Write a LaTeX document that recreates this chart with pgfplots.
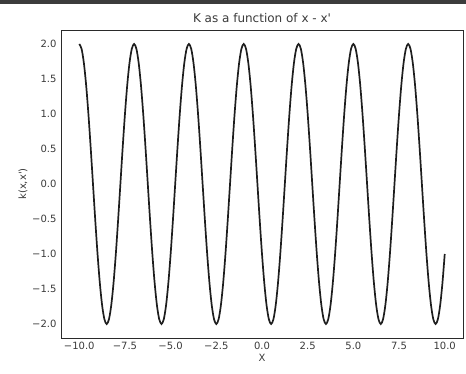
\documentclass[border=0pt]{standalone}
\usepackage{fontspec}
\setmainfont{DejaVu Sans}[Ligatures=TeXOff]
\usepackage{pgfplots}
\pgfplotsset{compat=1.18}
\definecolor{txt}{HTML}{3A3A3A}
\definecolor{frame}{HTML}{2A2A2A}
\definecolor{curve}{HTML}{1E1E1E}
\definecolor{topbar}{HTML}{3C3C3C}
\begin{document}
\begin{tikzpicture}[x=1pt,y=1pt]
\useasboundingbox (0,0) rectangle (466,374);
\fill[topbar] (0,370) rectangle (466,374);
\begin{axis}[
  at={(61pt,36pt)}, anchor=south west,
  scale only axis, width=402pt, height=308pt,
  xmin=-11, xmax=11, ymin=-2.2, ymax=2.2,
  axis line style={frame, line width=0.9pt},
  major tick length=0pt,
  xtick={-10,-7.5,-5,-2.5,0,2.5,5,7.5,10},
  xticklabels={−10.0,−7.5,−5.0,−2.5,0.0,2.5,5.0,7.5,10.0},
  ytick={-2,-1.5,-1,-0.5,0,0.5,1,1.5,2},
  yticklabels={−2.0,−1.5,−1.0,−0.5,0.0,0.5,1.0,1.5,2.0},
  tick label style={font=\fontsize{10}{12}\selectfont, text=txt},
  xticklabel style={yshift=-1pt},
  yticklabel style={xshift=-1pt},
  title={K as a function of x - x'},
  title style={font=\fontsize{12}{14}\selectfont, text=txt, yshift=-2pt},
  xlabel={X}, ylabel={k(x,x')},
  label style={font=\fontsize{10}{12}\selectfont, text=txt},
  xlabel style={yshift=3pt},
  ylabel style={yshift=-2pt},
]
\addplot[curve, line width=1.7pt, smooth] table {
x y
-10 2
-9.875 1.9319
-9.75 1.7321
-9.625 1.4142
-9.5 1
-9.375 0.5176
-9.25 0
-9.125 -0.5176
-9 -1
-8.875 -1.4142
-8.75 -1.7321
-8.625 -1.9319
-8.5 -2
-8.375 -1.9319
-8.25 -1.7321
-8.125 -1.4142
-8 -1
-7.875 -0.5176
-7.75 0
-7.625 0.5176
-7.5 1
-7.375 1.4142
-7.25 1.7321
-7.125 1.9319
-7 2
-6.875 1.9319
-6.75 1.7321
-6.625 1.4142
-6.5 1
-6.375 0.5176
-6.25 0
-6.125 -0.5176
-6 -1
-5.875 -1.4142
-5.75 -1.7321
-5.625 -1.9319
-5.5 -2
-5.375 -1.9319
-5.25 -1.7321
-5.125 -1.4142
-5 -1
-4.875 -0.5176
-4.75 0
-4.625 0.5176
-4.5 1
-4.375 1.4142
-4.25 1.7321
-4.125 1.9319
-4 2
-3.875 1.9319
-3.75 1.7321
-3.625 1.4142
-3.5 1
-3.375 0.5176
-3.25 0
-3.125 -0.5176
-3 -1
-2.875 -1.4142
-2.75 -1.7321
-2.625 -1.9319
-2.5 -2
-2.375 -1.9319
-2.25 -1.7321
-2.125 -1.4142
-2 -1
-1.875 -0.5176
-1.75 0
-1.625 0.5176
-1.5 1
-1.375 1.4142
-1.25 1.7321
-1.125 1.9319
-1 2
-0.875 1.9319
-0.75 1.7321
-0.625 1.4142
-0.5 1
-0.375 0.5176
-0.25 0
-0.125 -0.5176
0 -1
0.125 -1.4142
0.25 -1.7321
0.375 -1.9319
0.5 -2
0.625 -1.9319
0.75 -1.7321
0.875 -1.4142
1 -1
1.125 -0.5176
1.25 0
1.375 0.5176
1.5 1
1.625 1.4142
1.75 1.7321
1.875 1.9319
2 2
2.125 1.9319
2.25 1.7321
2.375 1.4142
2.5 1
2.625 0.5176
2.75 0
2.875 -0.5176
3 -1
3.125 -1.4142
3.25 -1.7321
3.375 -1.9319
3.5 -2
3.625 -1.9319
3.75 -1.7321
3.875 -1.4142
4 -1
4.125 -0.5176
4.25 0
4.375 0.5176
4.5 1
4.625 1.4142
4.75 1.7321
4.875 1.9319
5 2
5.125 1.9319
5.25 1.7321
5.375 1.4142
5.5 1
5.625 0.5176
5.75 0
5.875 -0.5176
6 -1
6.125 -1.4142
6.25 -1.7321
6.375 -1.9319
6.5 -2
6.625 -1.9319
6.75 -1.7321
6.875 -1.4142
7 -1
7.125 -0.5176
7.25 0
7.375 0.5176
7.5 1
7.625 1.4142
7.75 1.7321
7.875 1.9319
8 2
8.125 1.9319
8.25 1.7321
8.375 1.4142
8.5 1
8.625 0.5176
8.75 0
8.875 -0.5176
9 -1
9.125 -1.4142
9.25 -1.7321
9.375 -1.9319
9.5 -2
9.625 -1.9319
9.75 -1.7321
9.875 -1.4142
10 -1
};
\end{axis}
\end{tikzpicture}
\end{document}
